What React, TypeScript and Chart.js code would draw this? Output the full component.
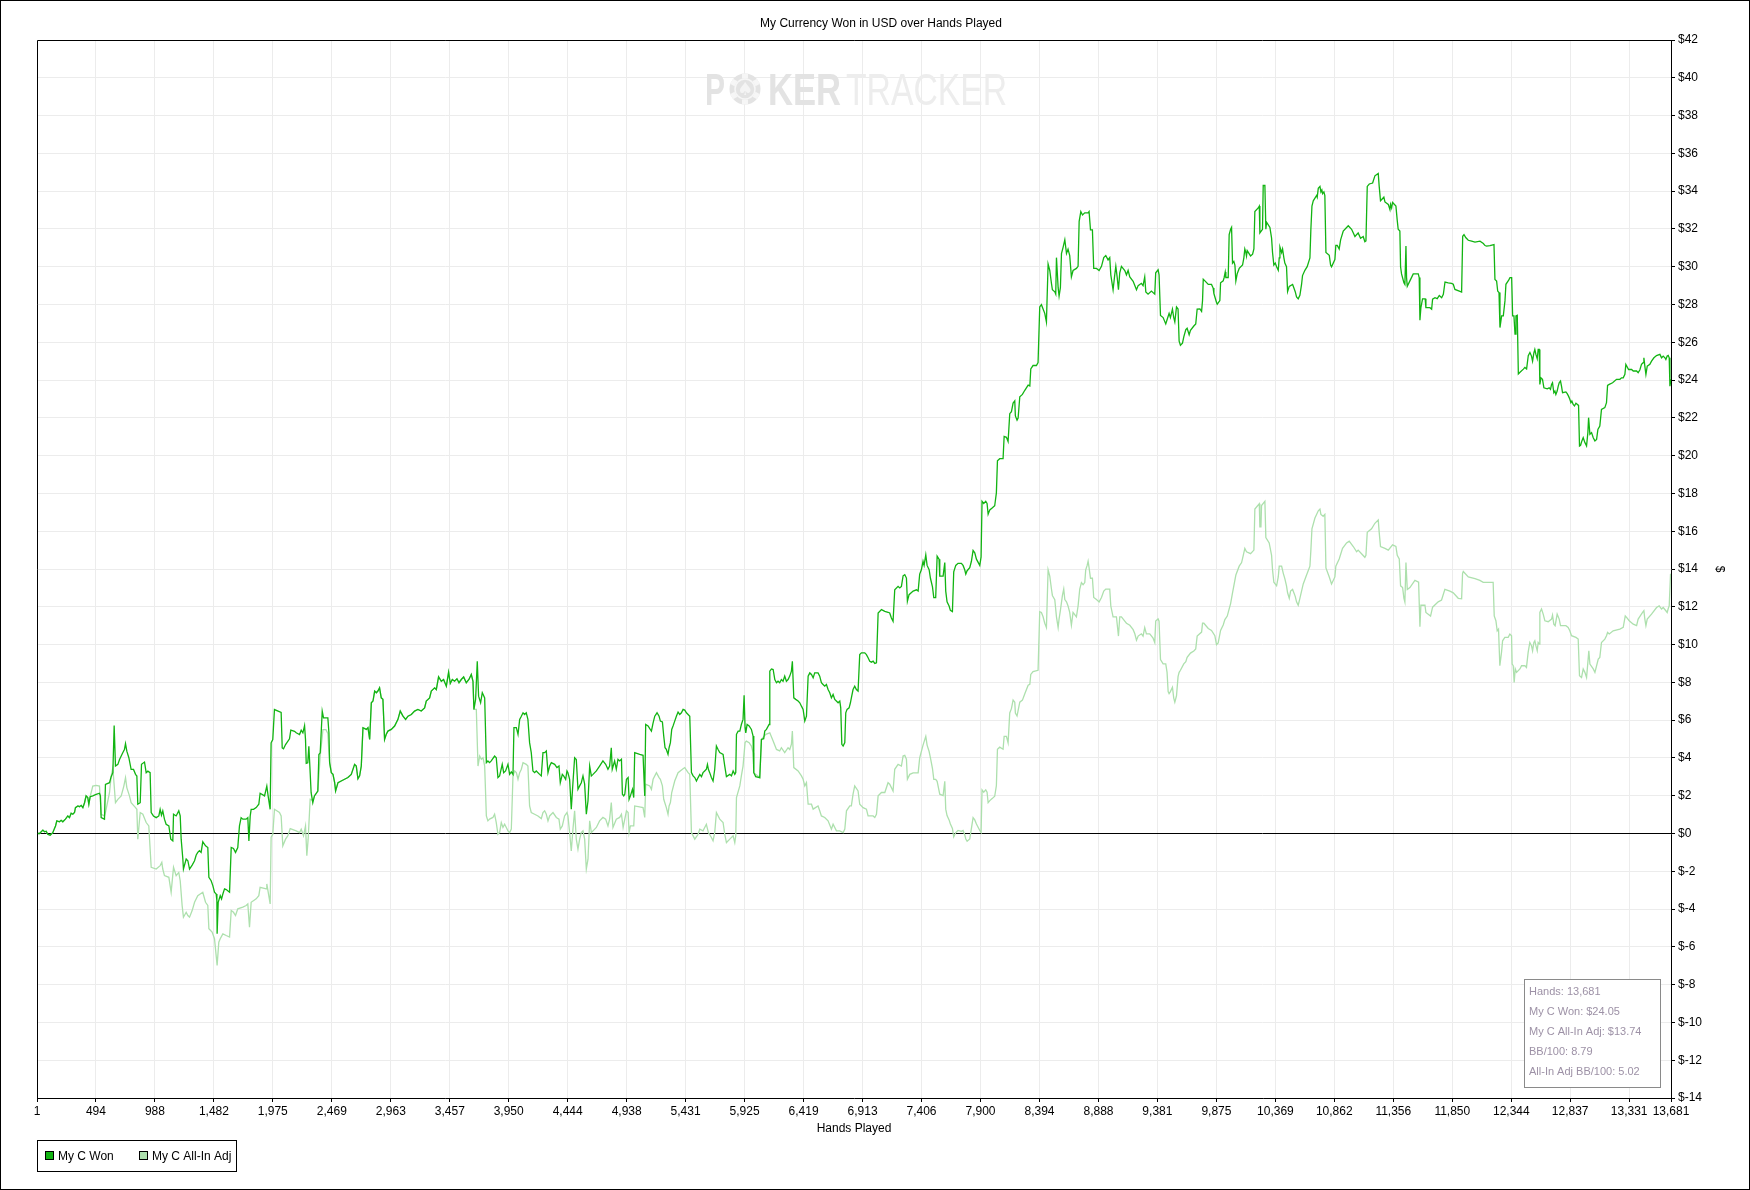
import React, { useEffect, useRef } from 'react';
import { Chart, registerables } from 'chart.js';

Chart.register(...registerables);

type Pt = [number, number];

// [hands played, USD] — both series identical over these hands
const sharedStart: Pt[] = [
  [1, 0], [22, 0], [50, 0.18], [64, 0.09], [78, 0.12], [91, -0.04], [111, -0.09], [133, 0.04], [156, 0.4], [167, 0.67],
  [189, 0.62], [203, 0.7], [217, 0.62], [239, 0.76], [259, 0.93], [273, 0.84], [287, 1.07], [301, 1.02], [315, 1.11],
  [323, 1.37], [343, 1.46], [357, 1.42], [371, 1.49], [385, 1.37], [399, 1.63], [412, 1.99], [426, 1.9], [435, 1.55], [446, 1.95],
];

const wonPart1: Pt[] = [
  [468, 1.99], [496, 2.07], [524, 2.13], [532, 1.99], [538, 0.84], [566, 0.76], [574, 2.6], [608, 2.69], [622, 3.01], [636, 3.22],
  [647, 5.71], [658, 3.57], [678, 3.66], [692, 3.92], [719, 4.27], [733, 4.45], [742, 4.76], [753, 4.36], [770, 4.01], [789, 3.39],
  [809, 3.39], [826, 3.13], [837, 3.04], [845, 1.55], [865, 1.63], [876, 3.66], [901, 3.78], [915, 3.22], [929, 3.3], [948, 3.22],
  [957, 1.11], [976, 0.93], [999, 0.84], [1021, 0.93], [1032, 1.28], [1043, 0.97], [1054, 1.2], [1068, 0.76], [1082, 0.49],
  [1105, 0.4], [1121, -0.3], [1138, -0.39], [1144, 1.02], [1166, 0.93], [1188, 1.2], [1200, 0.93], [1208, -0.3], [1222, -1.35],
  [1227, -1.88], [1250, -1.35], [1264, -1.44], [1278, -1.88], [1300, -1.67], [1320, -1.44], [1334, -1.14], [1347, -1.0],
  [1361, -0.91], [1375, -1.0], [1389, -0.44], [1412, -0.65], [1431, -0.74], [1440, -2.32], [1459, -2.5], [1473, -2.76],
  [1487, -3.11], [1501, -3.2], [1507, -3.55], [1509, -5.31], [1518, -3.64], [1535, -3.29], [1546, -3.46], [1557, -3.2],
  [1571, -2.93], [1585, -2.97], [1613, -3.11], [1627, -0.74], [1646, -0.79], [1663, -1.0], [1682, -0.74], [1696, 0.4],
  [1710, 0.84], [1724, 0.76], [1752, 0.76], [1766, 0.84], [1775, -0.39], [1786, 0.93], [1794, 1.28], [1814, 1.28], [1836, 1.37],
  [1858, 1.55], [1869, 2.13], [1906, 1.99], [1925, 2.51], [1936, 1.99], [1953, 1.28], [1961, 4.8], [1975, 4.97], [1989, 6.56],
  [2045, 6.41], [2054, 4.53], [2065, 4.48], [2082, 4.71], [2115, 5.01], [2126, 5.47], [2157, 5.41], [2171, 5.33], [2199, 5.24],
  [2213, 5.47], [2227, 5.33], [2241, 5.71], [2249, 4.97], [2255, 3.71], [2268, 3.74], [2277, 4.62], [2288, 3.22], [2296, 2.16],
  [2310, 1.63], [2324, 1.99], [2352, 2.25], [2361, 4.18], [2372, 4.27], [2389, 6.47], [2400, 6.12], [2436, 6.12], [2445, 5.33],
];

const adjPart1: Pt[] = [
  [468, 2.51], [496, 2.55], [524, 2.51], [538, 1.02], [566, 0.93], [574, 1.11], [608, 2.16], [622, 3.04], [636, 3.48], [658, 1.63],
  [678, 1.81], [706, 1.99], [728, 2.51], [742, 2.95], [753, 2.43], [775, 1.99], [789, 1.63], [826, 1.37], [837, 1.28], [845, -0.3],
  [865, 1.11], [887, 1.02], [915, 0.58], [937, 0.4], [957, -1.79], [999, -1.88], [1032, -1.7], [1046, -1.53], [1054, -1.88],
  [1068, -2.23], [1105, -2.32], [1124, -3.11], [1144, -1.79], [1166, -2.23], [1188, -2.06], [1200, -2.5], [1216, -3.81],
  [1227, -4.43], [1250, -4.17], [1264, -4.34], [1278, -4.43], [1300, -4.08], [1320, -3.64], [1347, -3.29], [1389, -3.11],
  [1412, -3.64], [1431, -3.81], [1440, -5.04], [1467, -5.22], [1487, -5.57], [1509, -6.98], [1523, -5.75], [1535, -5.57],
  [1557, -5.31], [1585, -5.4], [1613, -5.48], [1627, -4.08], [1646, -4.17], [1663, -4.34], [1682, -3.99], [1724, -3.9],
  [1752, -3.81], [1766, -3.73], [1780, -4.96], [1794, -3.64], [1836, -3.46], [1858, -3.29], [1869, -2.85], [1920, -2.93],
  [1925, -2.67], [1953, -3.73], [1961, -0.2], [1975, -0.05], [1989, 1.28], [2031, 1.11], [2045, 0.93], [2059, -0.65],
  [2082, -0.3], [2101, -0.12], [2121, 0.26], [2171, 0.14], [2199, 0.05], [2213, 0.23], [2232, -0.12], [2249, 0.4], [2260, -1.18],
  [2271, -0.3], [2288, 1.81], [2310, 1.75], [2324, 1.99], [2352, 2.25], [2372, 4.09], [2395, 5.5], [2420, 5.5], [2436, 5.3],
  [2445, 4.28],
];

const sharedMid: Pt[] = [
  [2451, 3.75], [2465, 3.22], [2479, 3.13], [2493, 2.69], [2501, 2.25], [2521, 2.69], [2548, 2.78], [2576, 2.87], [2604, 2.96],
  [2632, 3.13], [2660, 3.66], [2674, 3.57], [2688, 2.9], [2702, 3.05], [2716, 3.57], [2730, 5.6], [2758, 5.51], [2772, 5.6],
  [2786, 4.98], [2800, 6.92], [2814, 7.01], [2828, 7.54], [2842, 7.45], [2855, 7.54], [2869, 7.71], [2883, 7.18], [2897, 7.1],
  [2911, 4.98], [2925, 5.25], [2939, 5.42], [2967, 5.51], [2995, 5.69], [3023, 6.04], [3042, 6.48], [3065, 6.21], [3087, 6.04],
  [3107, 6.21], [3135, 6.3], [3162, 6.48], [3190, 6.57], [3218, 6.48], [3246, 6.65], [3260, 7.01], [3288, 7.18], [3302, 7.54],
  [3330, 7.71], [3344, 7.62], [3363, 8.29], [3386, 8.06], [3405, 8.15], [3428, 7.8], [3447, 8.54], [3461, 7.94], [3478, 8.15],
  [3497, 8.06], [3517, 8.19], [3534, 7.98], [3553, 8.15], [3573, 8.29], [3595, 7.98], [3617, 8.15], [3637, 8.42], [3651, 8.06],
  [3659, 6.57],
];

const wonPart2: Pt[] = [
  [3673, 7.1], [3687, 9.12], [3698, 7.27], [3715, 6.92], [3729, 7.45], [3749, 7.18], [3763, 3.75], [3776, 3.84], [3790, 3.75],
  [3804, 3.84], [3832, 4.1], [3846, 4.01], [3860, 2.96], [3874, 3.05], [3896, 3.66], [3908, 3.22], [3924, 3.31], [3944, 3.66],
  [3958, 3.13], [3972, 3.26], [3986, 3.13], [3994, 5.6], [4014, 5.6], [4028, 5.25], [4042, 6.04], [4056, 6.21], [4070, 6.39],
  [4083, 6.3], [4097, 6.39], [4111, 6.04], [4125, 4.81], [4139, 4.28], [4153, 3.31], [4167, 3.22], [4181, 3.31], [4209, 3.13],
  [4223, 3.05], [4237, 4.28], [4251, 4.28], [4265, 4.37], [4279, 3.22], [4293, 3.57], [4307, 3.75], [4335, 3.66], [4354, 3.49],
  [4371, 3.57], [4382, 2.69], [4399, 3.13], [4410, 3.05], [4427, 2.87], [4438, 3.31], [4446, 3.22], [4460, 2.87], [4474, 1.29],
  [4488, 2.69], [4502, 4.01], [4516, 3.92], [4530, 2.34], [4544, 2.52], [4558, 2.69], [4572, 3.05], [4586, 2.61], [4600, 1.02],
  [4614, 1.73], [4628, 3.57], [4642, 3.05], [4656, 3.13], [4684, 3.31], [4711, 3.57], [4739, 3.84], [4762, 3.66], [4781, 3.4],
  [4795, 3.57], [4809, 4.54], [4817, 3.4], [4837, 3.84], [4851, 3.4], [4865, 3.93], [4879, 3.84], [4894, 3.93], [4902, 2.08],
  [4913, 1.99], [4922, 2.08], [4936, 2.87], [4950, 2.96], [4958, 1.81], [4969, 1.99], [4986, 2.34], [4997, 1.9], [5005, 4.28],
  [5047, 4.19], [5075, 4.14], [5089, 1.99], [5097, 5.77], [5117, 5.69], [5131, 5.55], [5145, 5.42], [5159, 5.86], [5173, 6.21],
  [5192, 6.39], [5209, 6.21], [5220, 5.95], [5237, 5.9], [5248, 5.16], [5259, 4.54], [5270, 4.45], [5284, 4.19], [5293, 4.54],
  [5304, 4.81], [5315, 5.51], [5326, 5.69], [5340, 5.95], [5354, 6.21], [5368, 6.43], [5382, 6.3], [5396, 6.39], [5410, 6.57],
  [5424, 6.53], [5438, 6.39], [5452, 6.3], [5466, 6.21], [5480, 3.22], [5494, 3.05], [5508, 2.96], [5522, 2.78], [5536, 2.96],
  [5550, 3.13], [5564, 3.01], [5577, 3.22], [5591, 3.31], [5605, 3.4], [5614, 3.66], [5622, 3.4], [5633, 3.22], [5647, 2.96],
  [5661, 2.78], [5675, 3.4], [5689, 4.63], [5703, 4.45], [5717, 4.28], [5745, 4.19], [5759, 3.57], [5773, 3.01], [5801, 3.13],
  [5815, 3.05], [5829, 3.31], [5843, 3.13], [5851, 3.22], [5857, 5.25], [5871, 5.42], [5885, 5.42], [5898, 5.77], [5912, 6.04],
  [5921, 7.31], [5929, 5.6], [5935, 5.33], [5946, 5.77], [5963, 5.69], [5982, 5.51], [5996, 5.16], [6002, 3.22], [6018, 3.01],
  [6052, 2.96], [6066, 4.98], [6085, 5.02], [6094, 5.42], [6108, 5.51], [6130, 5.77], [6136, 8.59], [6150, 8.71], [6164, 8.68],
  [6178, 8.15], [6192, 7.98], [6205, 8.06], [6219, 7.98], [6233, 8.15], [6247, 8.06], [6261, 8.33], [6275, 8.06], [6289, 8.15],
  [6303, 8.33], [6317, 8.59], [6325, 9.12], [6337, 7.18], [6353, 7.1], [6373, 7.01], [6387, 6.92], [6401, 6.74], [6415, 6.57],
  [6429, 5.95], [6443, 6.21], [6457, 8.33], [6471, 8.5], [6485, 8.42], [6499, 8.24], [6512, 8.5], [6540, 8.5], [6554, 8.33],
  [6568, 7.98], [6582, 7.89], [6596, 7.8], [6610, 7.89], [6624, 7.62], [6638, 7.45], [6652, 7.18], [6666, 7.36], [6680, 7.1],
  [6708, 6.92], [6722, 7.01], [6730, 6.65], [6739, 4.72], [6750, 4.63], [6764, 4.81], [6772, 6.39], [6783, 6.57], [6800, 6.65],
  [6811, 6.92], [6819, 7.18], [6833, 7.62], [6847, 7.8], [6861, 7.62], [6875, 7.54], [6889, 9.47], [6903, 9.56], [6931, 9.56],
  [6945, 9.47], [6959, 9.3], [6973, 9.12], [6987, 9.07], [7001, 9.12], [7015, 9.0], [7029, 9.03], [7043, 11.67], [7071, 11.85],
  [7099, 11.76], [7126, 11.71], [7140, 11.67], [7154, 11.41], [7168, 11.23], [7182, 12.9], [7210, 13.08], [7224, 13.0],
  [7238, 13.08], [7252, 13.64], [7266, 13.7], [7280, 13.52], [7288, 12.29], [7302, 12.64], [7336, 12.83], [7364, 12.9],
  [7378, 12.83], [7391, 13.73], [7405, 13.96], [7419, 14.41], [7428, 14.19], [7442, 14.75], [7453, 14.19], [7470, 13.96],
  [7481, 13.51], [7498, 13.05], [7509, 12.49], [7525, 12.49], [7537, 14.68], [7553, 14.52], [7559, 13.62], [7587, 13.62],
  [7601, 14.34], [7609, 12.83], [7620, 12.26], [7637, 12.04], [7648, 11.81], [7665, 11.74], [7676, 13.85], [7693, 14.19],
  [7712, 14.3], [7740, 14.3], [7754, 14.19], [7768, 13.96], [7777, 13.73], [7788, 13.91], [7810, 14.07], [7824, 14.41],
  [7838, 14.98], [7852, 14.86], [7866, 14.52], [7894, 14.19], [7905, 14.64], [7913, 17.58], [7927, 17.47], [7944, 17.58],
  [7955, 17.47], [7964, 16.9], [7978, 17.13], [8000, 17.24], [8019, 17.35], [8033, 18.03], [8042, 19.73], [8061, 19.84],
  [8089, 19.84], [8098, 21.02], [8117, 20.97], [8131, 20.75], [8145, 22.22], [8159, 22.33], [8173, 22.78], [8187, 22.9],
  [8192, 22.1], [8206, 21.88], [8215, 21.99], [8229, 23.12], [8251, 23.24], [8271, 23.46], [8299, 23.73], [8313, 23.69],
  [8321, 24.59], [8340, 24.77], [8368, 24.77], [8382, 24.93], [8396, 27.87], [8410, 27.99], [8424, 27.76], [8438, 27.53],
  [8452, 27.08], [8466, 30.14], [8480, 29.8], [8494, 29.12], [8502, 28.78], [8522, 28.67], [8530, 28.55], [8536, 30.48],
  [8550, 28.89], [8558, 28.44], [8569, 28.89], [8578, 30.7], [8592, 31.04], [8606, 31.43], [8620, 30.7], [8633, 30.93],
  [8647, 30.59], [8661, 29.46], [8675, 29.8], [8703, 29.91], [8717, 30.02], [8726, 32.4], [8740, 32.92], [8754, 32.74],
  [8773, 32.85], [8801, 32.85], [8809, 32.92], [8821, 31.95], [8837, 31.95], [8848, 29.91], [8871, 29.91], [8893, 29.8],
  [8913, 30.02], [8932, 30.48], [8949, 30.59], [8968, 30.36], [8982, 30.48], [8991, 29.57], [9010, 28.78], [9024, 29.57],
  [9033, 30.02], [9044, 29.46], [9055, 28.78], [9066, 29.68], [9080, 30.02], [9108, 29.8], [9122, 29.57], [9136, 29.8],
  [9150, 29.46], [9178, 29.23], [9192, 29.0], [9206, 28.78], [9220, 29.0], [9247, 29.12], [9261, 29.0], [9275, 29.46],
  [9284, 28.67], [9303, 28.55], [9331, 28.71], [9359, 28.55], [9367, 29.68], [9387, 29.84], [9395, 29.57], [9407, 27.42],
  [9429, 27.31], [9451, 26.97], [9462, 27.19], [9479, 27.53], [9490, 27.31], [9507, 27.76], [9518, 27.31], [9527, 27.08],
  [9541, 27.87], [9554, 27.76], [9563, 26.06], [9574, 25.84], [9591, 25.95], [9602, 26.29], [9619, 26.67], [9630, 26.74],
  [9647, 26.4], [9658, 26.63], [9686, 26.86], [9702, 26.97], [9714, 27.76], [9737, 27.77], [9751, 27.64], [9759, 28.21],
  [9765, 29.34], [9779, 29.25], [9807, 29.06], [9834, 29.06], [9848, 28.87], [9854, 28.58], [9876, 28.11], [9882, 28.02],
  [9904, 28.21], [9910, 29.15], [9932, 29.25], [9940, 29.43], [9949, 29.72], [9954, 29.43], [9974, 29.43], [9982, 31.7],
  [9994, 31.98], [10002, 32.08], [10010, 30.19], [10021, 30.28], [10030, 30.09], [10038, 29.25], [10049, 29.62], [10066, 29.91],
  [10094, 30.09], [10105, 30.47], [10113, 30.94], [10122, 30.75], [10127, 30.57], [10133, 30.85], [10161, 30.57], [10178, 30.66],
  [10189, 30.94], [10197, 32.92], [10225, 33.11], [10234, 33.21], [10239, 31.79], [10261, 31.98], [10267, 34.3], [10281, 34.3],
  [10289, 31.98], [10295, 32.36], [10323, 32.08], [10337, 31.51], [10345, 30.75], [10356, 30.09], [10368, 30.19], [10379, 30.0],
  [10393, 29.81], [10401, 30.47], [10407, 31.04], [10421, 30.75], [10429, 30.94], [10440, 30.47], [10448, 30.19], [10462, 30.0],
  [10471, 28.68], [10485, 28.96], [10513, 29.06], [10524, 28.87], [10535, 28.68], [10546, 28.4], [10560, 28.3], [10574, 28.49],
  [10588, 29.06], [10596, 29.53], [10616, 29.81], [10635, 30.0], [10658, 30.47], [10666, 31.98], [10675, 33.21], [10686, 33.49],
  [10714, 33.77], [10719, 33.68], [10728, 34.15], [10742, 34.25], [10750, 33.96], [10758, 34.06], [10764, 33.87], [10775, 33.96],
  [10783, 33.77], [10792, 30.75], [10820, 30.6], [10831, 30.09], [10839, 30.0], [10867, 30.38], [10875, 31.13], [10887, 31.13],
  [10903, 30.94], [10915, 31.42], [10937, 31.89], [10979, 32.17], [11007, 31.98], [11035, 31.6], [11062, 31.79], [11082, 31.51],
  [11104, 31.6], [11118, 31.32], [11127, 31.36], [11138, 34.25], [11155, 34.38], [11183, 34.43], [11202, 34.81], [11230, 34.94],
  [11238, 34.25], [11249, 33.49], [11277, 33.68], [11286, 33.43], [11314, 33.3], [11328, 33.02], [11333, 33.3], [11342, 33.11],
  [11350, 33.4], [11378, 33.21], [11389, 32.45], [11397, 31.98], [11411, 31.89], [11417, 30.0], [11425, 29.62], [11445, 29.15],
  [11453, 29.06], [11462, 31.09], [11467, 29.43], [11473, 28.96], [11495, 29.25], [11523, 29.62], [11565, 29.62], [11573, 29.43],
  [11579, 27.17], [11587, 27.83], [11601, 28.3], [11623, 28.3], [11629, 27.83], [11663, 27.83], [11677, 27.75], [11685, 28.28],
  [11705, 28.36], [11724, 28.31], [11741, 28.48], [11761, 28.36], [11775, 28.54], [11789, 29.19], [11816, 29.15], [11844, 29.12],
  [11858, 29.07], [11872, 28.8], [11909, 28.71], [11928, 28.66], [11937, 31.61], [11948, 31.7], [11964, 31.53], [11984, 31.4],
  [12012, 31.35], [12040, 31.3], [12082, 31.35], [12110, 31.23], [12124, 31.12], [12137, 31.09], [12165, 31.12], [12199, 31.17],
  [12207, 29.33], [12221, 29.24], [12230, 28.71], [12241, 28.63], [12249, 26.78], [12263, 27.4], [12277, 27.4], [12291, 28.19],
  [12299, 29.07], [12322, 29.29], [12333, 29.42], [12347, 29.42], [12355, 27.4], [12366, 27.4], [12375, 26.43], [12383, 27.4],
  [12394, 27.43], [12403, 24.32], [12417, 24.41], [12445, 24.58], [12458, 24.67], [12472, 24.59], [12486, 25.29], [12500, 25.46],
  [12513, 25.27], [12522, 25.0], [12533, 25.44], [12541, 25.62], [12550, 25.36], [12561, 25.13], [12569, 25.62], [12578, 25.62],
  [12583, 23.77], [12592, 24.12], [12605, 24.04], [12617, 23.59], [12645, 23.54], [12661, 23.59], [12672, 23.51], [12681, 23.77],
  [12689, 23.86], [12700, 23.33], [12709, 23.42], [12717, 23.24], [12728, 23.42], [12737, 23.68], [12745, 23.86], [12756, 23.95],
  [12765, 23.65], [12773, 23.33], [12801, 23.37], [12812, 23.28], [12823, 23.15], [12834, 22.98], [12843, 22.8], [12851, 22.89],
  [12862, 22.71], [12873, 22.63], [12885, 22.77], [12907, 22.66], [12915, 20.51], [12924, 20.55], [12935, 20.78], [12946, 20.95],
  [12960, 20.69], [12974, 20.51], [12985, 21.22], [12991, 22.01], [13002, 21.13], [13016, 21.22], [13030, 20.95], [13044, 20.78],
  [13058, 20.86], [13069, 21.39], [13085, 21.57], [13099, 22.45], [13127, 22.54], [13141, 22.8], [13150, 23.72], [13164, 23.77],
  [13192, 23.86], [13225, 24.04], [13253, 24.04], [13267, 24.12], [13281, 24.12], [13295, 24.3], [13303, 24.83], [13326, 24.56],
  [13351, 24.56], [13365, 24.48], [13393, 24.48], [13406, 24.39], [13420, 24.53], [13434, 24.83], [13448, 24.92], [13454, 25.18],
  [13462, 24.74], [13471, 24.3], [13482, 24.74], [13504, 24.83], [13518, 25.0], [13538, 25.18], [13560, 25.3], [13588, 25.36],
  [13602, 25.18], [13616, 25.27], [13630, 25.18], [13638, 25.09], [13649, 25.27], [13658, 25.3], [13666, 25.18], [13672, 23.68],
  [13681, 24.05],
];

const adjPart2: Pt[] = [
  [3679, 6.57], [3693, 3.57], [3707, 4.1], [3721, 3.93], [3735, 4.01], [3749, 3.57], [3763, 0.93], [3776, 0.67], [3790, 0.76],
  [3818, 0.85], [3832, 1.02], [3846, 0.58], [3860, -0.04], [3874, 0.05], [3888, 0.58], [3902, 0.32], [3916, 0.49], [3930, 0.32],
  [3944, 0.14], [3958, 0.05], [3972, 0.23], [3986, 3.05], [4000, 3.31], [4014, 3.22], [4028, 2.87], [4042, 3.22], [4056, 3.4],
  [4070, 3.75], [4097, 3.66], [4111, 3.57], [4125, 1.46], [4139, 1.11], [4167, 1.02], [4195, 0.93], [4223, 0.79], [4237, 1.11],
  [4251, 1.2], [4265, 1.02], [4279, 0.67], [4293, 0.93], [4321, 1.11], [4349, 0.85], [4371, 0.76], [4382, 0.23], [4399, 0.4],
  [4418, 0.93], [4438, 1.11], [4446, 0.93], [4460, 0.05], [4474, -0.92], [4488, 0.23], [4502, 1.2], [4516, -0.3], [4530, -0.83],
  [4544, -0.3], [4558, 0.05], [4572, 0.14], [4586, -0.3], [4600, -1.88], [4614, -1.36], [4628, 0.67], [4642, 0.05], [4656, 0.14],
  [4684, 0.32], [4711, 0.67], [4739, 0.85], [4762, 0.76], [4781, 0.4], [4795, 0.76], [4809, 1.64], [4823, 0.32], [4851, 0.76],
  [4879, 0.85], [4894, 1.02], [4908, 0.32], [4936, 1.2], [4950, 1.11], [4958, 0.05], [4969, 0.4], [4997, 0.4], [5005, 1.46],
  [5075, 1.37], [5089, 0.85], [5097, 2.61], [5131, 2.52], [5145, 2.34], [5159, 2.87], [5187, 3.22], [5209, 2.96], [5220, 2.87],
  [5237, 2.52], [5248, 1.81], [5270, 1.37], [5284, 1.02], [5293, 1.46], [5304, 1.64], [5315, 2.17], [5340, 2.78], [5368, 3.22],
  [5410, 3.43], [5424, 3.49], [5452, 3.22], [5466, 3.13], [5480, 0.05], [5508, -0.3], [5536, -0.04], [5550, 0.23], [5577, 0.14],
  [5605, 0.49], [5622, 0.05], [5647, -0.21], [5661, -0.39], [5675, 0.05], [5689, 1.11], [5717, 0.76], [5745, 0.58], [5759, -0.04],
  [5773, -0.48], [5801, -0.3], [5829, -0.12], [5843, -0.48], [5851, -0.12], [5857, 1.9], [5885, 2.52], [5898, 3.05], [5912, 3.57],
  [5929, 4.81], [5940, 4.89], [5963, 4.81], [5982, 4.63], [5996, 4.28], [6002, 3.22], [6052, 2.96], [6066, 4.98], [6102, 5.25],
  [6136, 5.33], [6164, 4.89], [6192, 4.45], [6219, 4.37], [6233, 4.54], [6261, 4.28], [6289, 4.54], [6303, 4.45], [6317, 4.72],
  [6325, 5.42], [6337, 3.49], [6373, 3.31], [6401, 3.05], [6415, 2.87], [6429, 2.52], [6443, 2.69], [6457, 1.55], [6485, 1.55],
  [6499, 1.29], [6540, 1.46], [6554, 1.2], [6568, 0.93], [6596, 0.85], [6624, 0.67], [6652, 0.23], [6666, 0.49], [6694, 0.14],
  [6722, 0.14], [6750, 0.05], [6764, 0.23], [6778, 1.2], [6806, 1.46], [6819, 1.46], [6833, 2.08], [6847, 2.52], [6875, 2.25],
  [6889, 1.55], [6917, 1.37], [6945, 1.29], [6959, 0.93], [7001, 0.93], [7015, 0.85], [7029, 1.02], [7043, 1.99], [7071, 2.17],
  [7099, 2.17], [7126, 2.69], [7140, 2.61], [7168, 2.25], [7182, 3.4], [7210, 3.66], [7238, 3.57], [7252, 4.1], [7266, 4.14],
  [7280, 3.93], [7288, 2.87], [7308, 3.13], [7336, 3.21], [7378, 3.21], [7391, 4.0], [7419, 4.68], [7442, 5.14], [7453, 4.68],
  [7470, 4.34], [7481, 4.0], [7498, 3.44], [7509, 2.87], [7525, 2.87], [7537, 2.76], [7559, 2.08], [7587, 2.01], [7601, 2.76],
  [7609, 1.29], [7620, 0.95], [7637, 0.72], [7648, 0.5], [7665, 0.27], [7676, -0.18], [7693, 0.05], [7712, 0.16], [7740, 0.11],
  [7754, 0.16], [7768, -0.07], [7777, -0.29], [7788, -0.41], [7810, -0.29], [7824, 0.27], [7838, 0.84], [7852, 0.72],
  [7866, 0.5], [7894, 0.16], [7905, 0.05], [7913, 2.31], [7927, 2.19], [7944, 2.31], [7955, 2.19], [7964, 1.63], [7978, 1.74],
  [8000, 1.86], [8019, 1.97], [8033, 2.53], [8042, 4.46], [8061, 4.57], [8089, 4.46], [8098, 5.14], [8117, 5.14], [8131, 4.8],
  [8145, 6.38], [8159, 6.61], [8173, 7.06], [8187, 6.95], [8192, 6.38], [8206, 6.22], [8229, 6.95], [8251, 7.06], [8271, 7.4],
  [8299, 7.85], [8313, 7.9], [8321, 8.42], [8340, 8.57], [8382, 8.64], [8396, 11.74], [8410, 11.7], [8424, 11.47], [8438, 11.13],
  [8452, 10.9], [8466, 13.96], [8480, 13.62], [8494, 12.94], [8502, 12.6], [8522, 12.38], [8536, 11.47], [8550, 10.9],
  [8558, 11.36], [8569, 11.81], [8586, 12.6], [8597, 12.94], [8606, 12.38], [8620, 12.26], [8633, 12.04], [8647, 11.7],
  [8661, 11.02], [8675, 11.7], [8703, 11.47], [8717, 12.04], [8731, 12.94], [8745, 13.28], [8759, 13.17], [8773, 13.28],
  [8781, 13.96], [8793, 14.19], [8801, 14.41], [8809, 14.07], [8821, 13.51], [8837, 13.51], [8848, 12.49], [8871, 12.38],
  [8893, 12.26], [8913, 12.49], [8932, 12.83], [8949, 12.94], [8982, 12.94], [8991, 12.04], [9010, 11.47], [9038, 11.47],
  [9055, 10.45], [9066, 11.47], [9080, 11.47], [9108, 11.24], [9122, 11.13], [9150, 11.02], [9178, 10.79], [9192, 10.57],
  [9206, 10.23], [9220, 10.45], [9247, 10.57], [9261, 10.45], [9275, 10.9], [9289, 10.57], [9317, 10.57], [9345, 10.34],
  [9359, 10.11], [9367, 11.24], [9387, 11.36], [9395, 11.24], [9407, 9.21], [9429, 8.98], [9451, 8.98], [9462, 8.53],
  [9471, 7.51], [9479, 7.4], [9490, 7.51], [9507, 7.74], [9518, 7.17], [9527, 6.95], [9541, 7.29], [9554, 8.3], [9563, 8.53],
  [9574, 8.64], [9602, 8.98], [9619, 9.1], [9630, 9.32], [9658, 9.55], [9686, 9.66], [9702, 9.77], [9714, 10.45], [9751, 10.66],
  [9759, 11.13], [9770, 11.13], [9807, 10.85], [9834, 10.75], [9862, 10.47], [9876, 10.0], [9890, 10.09], [9910, 10.75],
  [9932, 11.04], [9946, 11.32], [9966, 11.51], [9982, 11.89], [9994, 12.17], [10010, 12.74], [10021, 13.11], [10038, 13.68],
  [10066, 14.15], [10086, 14.34], [10100, 14.72], [10113, 15.09], [10127, 14.91], [10161, 14.81], [10189, 15.0], [10197, 17.17],
  [10234, 17.45], [10239, 16.23], [10248, 16.23], [10253, 17.36], [10281, 17.58], [10289, 15.66], [10317, 15.38], [10337, 14.72],
  [10345, 13.96], [10356, 13.3], [10379, 13.11], [10393, 13.58], [10401, 14.15], [10421, 14.15], [10435, 13.77], [10448, 13.49],
  [10462, 13.11], [10471, 12.74], [10485, 12.45], [10496, 12.83], [10513, 12.92], [10535, 12.55], [10546, 12.26], [10560, 12.08],
  [10574, 12.45], [10602, 13.21], [10630, 13.68], [10658, 14.15], [10666, 15.0], [10675, 16.13], [10700, 16.7], [10728, 17.08],
  [10742, 17.17], [10750, 16.89], [10769, 16.79], [10783, 16.89], [10792, 14.06], [10820, 13.58], [10839, 13.21], [10867, 13.58],
  [10875, 14.15], [10903, 14.53], [10931, 15.09], [10965, 15.38], [10987, 15.47], [11021, 15.19], [11049, 14.91], [11062, 15.0],
  [11090, 14.81], [11118, 14.62], [11127, 14.72], [11138, 15.94], [11174, 16.13], [11202, 16.42], [11230, 16.6], [11238, 15.94],
  [11249, 15.19], [11286, 15.09], [11314, 15.0], [11350, 15.28], [11378, 15.19], [11389, 14.72], [11406, 14.53], [11417, 13.11],
  [11434, 13.02], [11445, 12.45], [11453, 12.26], [11462, 14.34], [11473, 12.92], [11495, 13.02], [11537, 13.4], [11568, 13.3],
  [11579, 10.94], [11587, 12.08], [11621, 12.08], [11629, 11.7], [11668, 11.51], [11685, 11.98], [11732, 12.26], [11760, 12.36],
  [11788, 12.92], [11830, 12.83], [11858, 12.74], [11900, 12.45], [11928, 12.42], [11936, 13.77], [11942, 13.87], [11984, 13.58],
  [12040, 13.49], [12081, 13.4], [12109, 13.29], [12164, 13.29], [12192, 13.29], [12201, 11.52], [12215, 11.26], [12226, 10.73],
  [12237, 10.82], [12248, 8.88], [12262, 9.59], [12271, 10.2], [12290, 10.38], [12318, 10.38], [12332, 10.56], [12346, 10.47],
  [12351, 8.97], [12360, 8.88], [12368, 8.0], [12377, 8.71], [12388, 8.53], [12416, 8.71], [12430, 8.88], [12458, 8.88],
  [12471, 8.79], [12485, 9.59], [12499, 10.11], [12513, 9.94], [12522, 9.67], [12533, 10.11], [12541, 10.2], [12550, 9.94],
  [12561, 9.67], [12569, 10.11], [12578, 10.03], [12583, 11.7], [12597, 11.88], [12611, 11.61], [12625, 11.26], [12653, 11.21],
  [12681, 11.35], [12689, 11.56], [12700, 11.08], [12711, 11.0], [12728, 11.61], [12745, 11.35], [12756, 11.0], [12801, 11.0],
  [12820, 10.91], [12834, 10.73], [12848, 10.47], [12885, 10.38], [12904, 10.29], [12915, 8.35], [12932, 8.26], [12946, 8.71],
  [12960, 8.53], [12974, 8.26], [12985, 9.06], [12993, 9.67], [13002, 8.97], [13030, 8.71], [13044, 8.53], [13058, 8.88],
  [13072, 9.23], [13085, 9.32], [13099, 10.11], [13127, 10.29], [13141, 10.47], [13150, 10.64], [13164, 10.56], [13197, 10.73],
  [13253, 10.82], [13281, 10.91], [13298, 11.52], [13309, 11.44], [13331, 11.26], [13365, 11.08], [13393, 11.0], [13406, 11.35],
  [13443, 11.7], [13454, 11.79], [13462, 11.35], [13471, 11.0], [13482, 11.35], [13518, 11.61], [13560, 11.96], [13582, 12.05],
  [13602, 11.88], [13616, 11.96], [13638, 11.79], [13649, 11.7], [13658, 11.91], [13666, 12.05], [13677, 13.72], [13681, 13.74],
];

const xTickValues = [1, 494, 988, 1482, 1975, 2469, 2963, 3457, 3950, 4444, 4938, 5431, 5925, 6419, 6913, 7406, 7900,
  8394, 8888, 9381, 9875, 10369, 10862, 11356, 11850, 12344, 12837, 13331, 13681];
const yMin = -14;
const yMax = 42;
const yStep = 2;

const chartTitle = 'My Currency Won in USD over Hands Played';
const xTitle = 'Hands Played';
const yTitle = '$';
const seriesNames = ['My C Won', 'My C All-In Adj'];
const seriesColors = ['#12b412', '#ade0ad'];
const statsLines = ['Hands: 13,681', 'My C Won: $24.05', 'My C All-In Adj: $13.74', 'BB/100: 8.79', 'All-In Adj BB/100: 5.02'];

const W = 1750;
const H = 1190;
const FONT = '"Liberation Sans", Arial, sans-serif';

const toXY = (pts: Pt[]) => pts.map(([x, y]) => ({ x, y }));

export default function App() {
  const ref = useRef<HTMLCanvasElement | null>(null);

  useEffect(() => {
    document.body.style.margin = '0';
    const canvas = ref.current;
    if (!canvas) return;

    const wonData = toXY([...sharedStart, ...wonPart1, ...sharedMid, ...wonPart2]);
    const adjData = toXY([...sharedStart, ...adjPart1, ...sharedMid, ...adjPart2]);

    const decor = {
      id: 'decor',
      beforeDraw(chart: any) {
        const ctx = chart.ctx;
        ctx.save();
        ctx.fillStyle = '#fff';
        ctx.fillRect(0, 0, W, H);
        ctx.restore();
      },
      beforeDatasetsDraw(chart: any) {
        // watermark
        const ctx = chart.ctx;
        ctx.save();
        const base = 105;
        ctx.textBaseline = 'alphabetic';
        const drawScaled = (text: string, x: number, targetW: number) => {
          const w = ctx.measureText(text).width;
          ctx.save();
          ctx.translate(x, base);
          ctx.scale(targetW / w, 1);
          ctx.fillText(text, 0, 0);
          ctx.restore();
        };
        ctx.fillStyle = '#e3e3e3';
        ctx.font = `bold 45px ${FONT}`;
        drawScaled('P', 705, 20);
        // chip
        const cx = 745, cy = 89, r = 15.5;
        ctx.beginPath();
        ctx.arc(cx, cy, r, 0, Math.PI * 2);
        ctx.fill();
        ctx.fillStyle = '#f6f6f6';
        for (let i = 0; i < 6; i++) {
          const a = (i * Math.PI) / 3 + Math.PI / 6;
          ctx.save();
          ctx.translate(cx + Math.cos(a) * (r - 2.5), cy + Math.sin(a) * (r - 2.5));
          ctx.rotate(a);
          ctx.fillRect(-2.5, -3, 5, 6);
          ctx.restore();
        }
        ctx.strokeStyle = '#f6f6f6';
        ctx.lineWidth = 1.5;
        ctx.beginPath();
        ctx.arc(cx, cy, 10, 0, Math.PI * 2);
        ctx.stroke();
        ctx.fillStyle = '#f4f4f4';
        ctx.font = `18px "DejaVu Sans", sans-serif`;
        ctx.textAlign = 'center';
        ctx.textBaseline = 'middle';
        ctx.fillText('\u2660', cx, cy + 1);
        ctx.textAlign = 'left';
        ctx.textBaseline = 'alphabetic';
        ctx.fillStyle = '#e3e3e3';
        ctx.font = `bold 45px ${FONT}`;
        drawScaled('KER', 768, 73);
        ctx.fillStyle = '#ededed';
        ctx.font = `45px ${FONT}`;
        drawScaled('TRACKER', 846, 161);
        ctx.restore();
      },
      afterDraw(chart: any) {
        const ctx = chart.ctx;
        const a = chart.chartArea;
        ctx.save();
        // outer border
        ctx.strokeStyle = '#000';
        ctx.lineWidth = 1;
        ctx.strokeRect(0.5, 0.5, W - 1, H - 1);
        // plot top/left border
        ctx.beginPath();
        ctx.moveTo(Math.round(a.left) + 0.5, Math.round(a.bottom));
        ctx.lineTo(Math.round(a.left) + 0.5, Math.round(a.top) + 0.5);
        ctx.lineTo(Math.round(a.right), Math.round(a.top) + 0.5);
        ctx.stroke();
        // titles
        ctx.fillStyle = '#000';
        ctx.font = `12px ${FONT}`;
        ctx.textAlign = 'center';
        ctx.textBaseline = 'middle';
        ctx.fillText(chartTitle, 881, 23.5);
        ctx.fillText(xTitle, (a.left + a.right) / 2, 1129);
        ctx.save();
        ctx.translate(1719, (a.top + a.bottom) / 2);
        ctx.rotate(Math.PI / 2);
        ctx.fillText(yTitle, 0, 0);
        ctx.restore();
        // legend
        ctx.strokeStyle = '#000';
        ctx.strokeRect(37.5, 1140.5, 199, 31);
        const items = [
          { x: 45, tx: 58 },
          { x: 139, tx: 152 },
        ];
        items.forEach((it, i) => {
          ctx.fillStyle = seriesColors[i];
          ctx.fillRect(it.x + 0.5, 1151.5, 8, 8);
          ctx.strokeStyle = '#000';
          ctx.strokeRect(it.x + 0.5, 1151.5, 8, 8);
          ctx.fillStyle = '#000';
          ctx.textAlign = 'left';
          ctx.fillText(seriesNames[i], it.tx, 1156.5);
        });
        // stats box
        ctx.fillStyle = '#fff';
        ctx.fillRect(1524.5, 979.5, 136, 108);
        ctx.strokeStyle = '#8a8a8a';
        ctx.strokeRect(1524.5, 979.5, 136, 108);
        ctx.fillStyle = '#9d91a6';
        ctx.font = `11px ${FONT}`;
        ctx.textAlign = 'left';
        statsLines.forEach((s, i) => ctx.fillText(s, 1529, 992 + i * 20));
        ctx.restore();
      },
    };

    const chart = new Chart(canvas, {
      type: 'line',
      data: {
        datasets: [
          {
            label: seriesNames[0],
            data: wonData,
            borderColor: seriesColors[0],
            backgroundColor: seriesColors[0],
            borderWidth: 1.3,
            pointRadius: 0,
            tension: 0,
            fill: false,
          },
          {
            label: seriesNames[1],
            data: adjData,
            borderColor: seriesColors[1],
            backgroundColor: seriesColors[1],
            borderWidth: 1.3,
            pointRadius: 0,
            tension: 0,
            fill: false,
          },
        ],
      },
      options: {
        responsive: false,
        animation: false,
        devicePixelRatio: 1,
        layout: { padding: { left: 37, top: 40, right: 0, bottom: 0 } },
        plugins: { legend: { display: false }, tooltip: { enabled: false }, title: { display: false } },
        scales: {
          x: {
            type: 'linear',
            min: 1,
            max: 13681,
            afterBuildTicks: (scale: any) => {
              scale.ticks = xTickValues.map((v) => ({ value: v }));
            },
            afterFit: (scale: any) => {
              scale.height = H - 1098;
            },
            ticks: {
              autoSkip: false,
              maxRotation: 0,
              minRotation: 0,
              padding: 2,
              color: '#000',
              font: { family: FONT, size: 12 },
              callback: (v: any) => Number(v).toLocaleString('en-US'),
            },
            grid: { color: '#ececec', tickColor: '#000', tickLength: 4, lineWidth: 1 },
            border: { color: '#000', width: 1 },
          },
          y: {
            position: 'right',
            min: yMin,
            max: yMax,
            afterFit: (scale: any) => {
              scale.width = W - 1671;
            },
            ticks: {
              stepSize: yStep,
              padding: 3,
              color: '#000',
              font: { family: FONT, size: 12 },
              callback: (v: any) => `$${v}`,
            },
            grid: {
              color: (c: any) => (c.tick && c.tick.value === 0 ? '#000' : '#ececec'),
              tickColor: '#000',
              tickLength: 4,
              lineWidth: 1,
            },
            border: { color: '#000', width: 1 },
          },
        },
      },
      plugins: [decor],
    } as any);

    return () => chart.destroy();
  }, []);

  return (
    <div style={{ width: W, height: H, position: 'relative' }}>
      <canvas ref={ref} width={W} height={H} style={{ display: 'block', width: W, height: H }} />
    </div>
  );
}
